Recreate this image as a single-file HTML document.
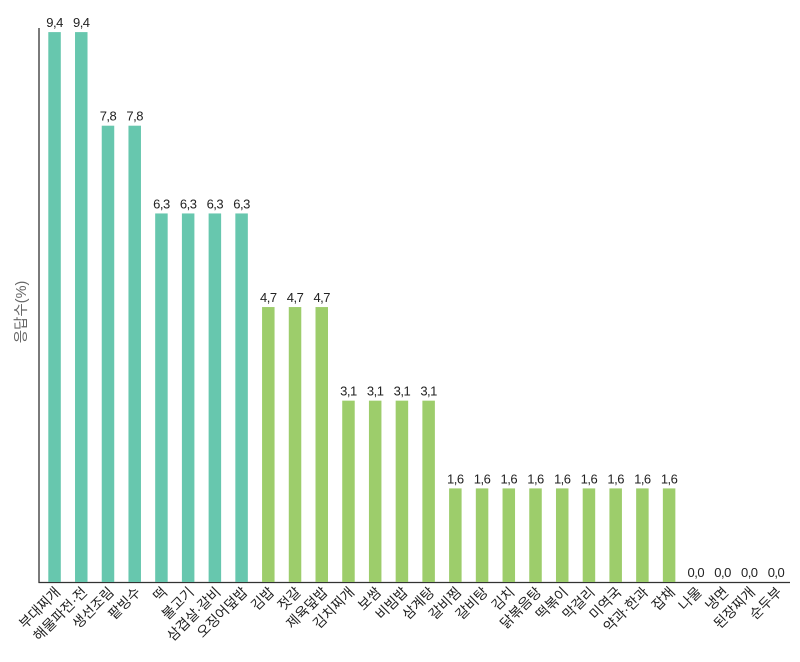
<!DOCTYPE html>
<html><head><meta charset="utf-8"><style>
body{margin:0;background:#fff}
svg text{font-family:"Liberation Sans","Noto Sans CJK KR",sans-serif;fill:#222}
</style></head><body>
<svg width="800" height="657" xmlns="http://www.w3.org/2000/svg">
<line x1="39" y1="28" x2="39" y2="583" stroke="#333" stroke-width="1.3"/>
<line x1="38.5" y1="582.5" x2="790" y2="582.5" stroke="#333" stroke-width="1.3"/>
<text transform="translate(26,312) rotate(-90)" text-anchor="middle" font-size="14.5" style="fill:#666">응답수(%)</text>
<g id="bars"></g>
</svg>
<script>
var d=[["부대찌개",9.4],["해물파전·전",9.4],["생선조림",7.8],["팥빙수",7.8],["떡",6.3],["불고기",6.3],["삼겹살·갈비",6.3],["오징어덮밥",6.3],["김밥",4.7],["젓갈",4.7],["제육덮밥",4.7],["김치찌개",3.1],["보쌈",3.1],["비빔밥",3.1],["삼계탕",3.1],["갈비찜",1.6],["갈비탕",1.6],["김치",1.6],["닭볶음탕",1.6],["떡볶이",1.6],["막걸리",1.6],["미역국",1.6],["약과·한과",1.6],["잡채",1.6],["나물",0],["냉면",0],["된장찌개",0],["순두부",0]];
var g=document.getElementById("bars"),s="";
for(var i=0;i<d.length;i++){
 var x=48.3+i*26.72,v=d[i][1],h=v*58.5,y=582-h,c=i<8?"#67c7ae":"#9dcd6b";
 if(h>0)s+='<rect x="'+x+'" y="'+y+'" width="12.5" height="'+h+'" fill="'+c+'"/>';
 s+='<text x="'+(x+6.25)+'" y="'+(y-5)+'" text-anchor="middle" font-size="13" letter-spacing="-0.5">'+v.toFixed(1).replace(".",",")+'</text>';
 s+='<text transform="translate('+(x+13)+',593) rotate(-45)" text-anchor="end" font-size="14">'+d[i][0]+'</text>';
}
g.innerHTML=s;
</script>
</body></html>
